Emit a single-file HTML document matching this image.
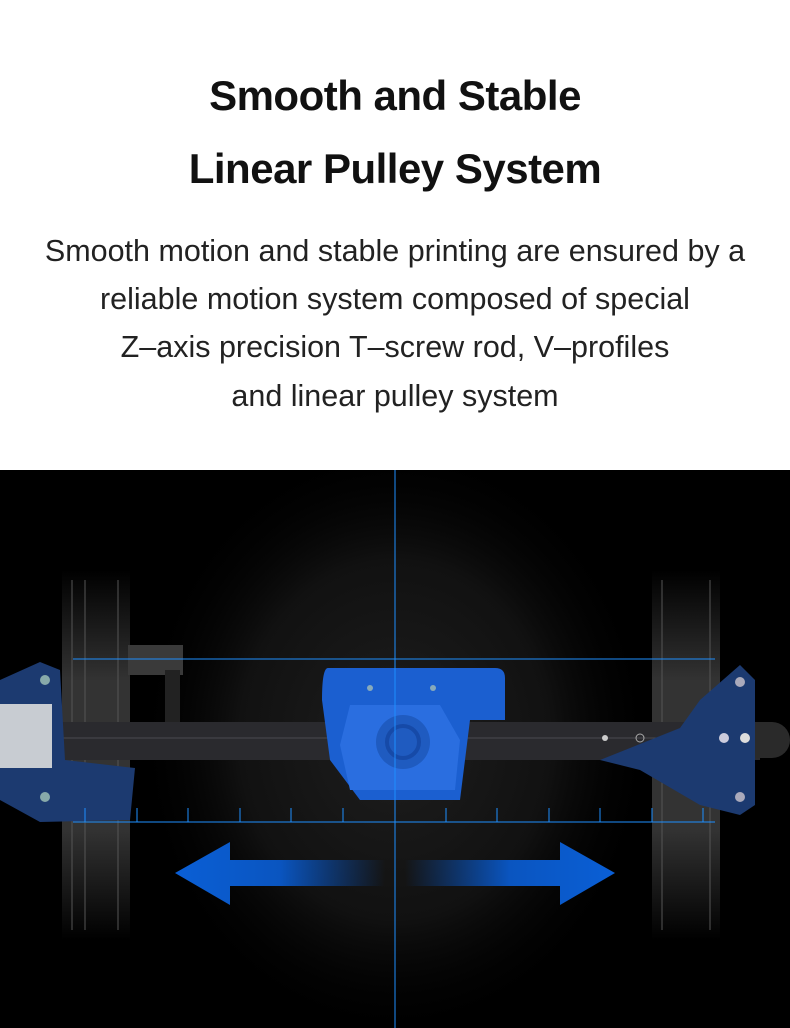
<!DOCTYPE html>
<html><head><meta charset="utf-8"><style>
html,body{margin:0;padding:0;background:#fff;width:790px;height:1028px;overflow:hidden}
.t{position:absolute;left:0;width:790px;text-align:center;font-family:"Liberation Sans",sans-serif;color:#111;white-space:nowrap}
.h{font-weight:bold;font-size:42px;letter-spacing:-0.5px}
.b{font-size:30.5px;color:#222}
</style></head><body>
<div class="t h" style="top:72px">Smooth and Stable</div>
<div class="t h" style="top:145px">Linear Pulley System</div>
<div class="t b" style="top:234px">Smooth motion and stable printing are ensured by a</div>
<div class="t b" style="top:282px">reliable motion system composed of special</div>
<div class="t b" style="top:330px">Z–axis precision T–screw rod, V–profiles</div>
<div class="t b" style="top:379px">and linear pulley system</div>
<svg style="position:absolute;left:0;top:470px" width="790" height="558" viewBox="0 470 790 558">
<defs>
<radialGradient id="bg" cx="395" cy="740" r="1" gradientTransform="translate(395 740) scale(260 300) translate(-395 -740)" gradientUnits="userSpaceOnUse">
<stop offset="0" stop-color="#1e1e1e"/><stop offset="0.6" stop-color="#111"/><stop offset="1" stop-color="#000" stop-opacity="0"/></radialGradient>
<linearGradient id="ext" x1="0" y1="0" x2="0" y2="1"><stop offset="0" stop-color="#000"/><stop offset="0.3" stop-color="#333"/><stop offset="0.7" stop-color="#333"/><stop offset="1" stop-color="#000"/></linearGradient>
<linearGradient id="la" x1="175" y1="0" x2="385" y2="0" gradientUnits="userSpaceOnUse"><stop offset="0" stop-color="#0a5fd6"/><stop offset="0.5" stop-color="#0a55c0"/><stop offset="1" stop-color="#0a55c0" stop-opacity="0"/></linearGradient>
<linearGradient id="ra" x1="615" y1="0" x2="405" y2="0" gradientUnits="userSpaceOnUse"><stop offset="0" stop-color="#0a5fd6"/><stop offset="0.5" stop-color="#0a55c0"/><stop offset="1" stop-color="#0a55c0" stop-opacity="0"/></linearGradient>
</defs>
<rect x="0" y="470" width="790" height="558" fill="#000"/>
<rect x="0" y="470" width="790" height="558" fill="url(#bg)"/>
<rect x="62" y="570" width="68" height="370" fill="url(#ext)"/>
<rect x="652" y="570" width="68" height="370" fill="url(#ext)"/>
<g stroke="#555" stroke-width="1"><line x1="72" y1="580" x2="72" y2="930"/><line x1="85" y1="580" x2="85" y2="930"/><line x1="118" y1="580" x2="118" y2="930"/><line x1="662" y1="580" x2="662" y2="930"/><line x1="710" y1="580" x2="710" y2="930"/></g>
<rect x="128" y="645" width="55" height="30" fill="#3a3a3a"/>
<rect x="165" y="670" width="15" height="60" fill="#222"/>
<rect x="60" y="722" width="700" height="38" fill="#2a2a2e"/>
<rect x="740" y="722" width="50" height="36" rx="18" fill="#2a2a2a"/>
<line x1="62" y1="738" x2="720" y2="738" stroke="#4a4a50"/>
<path d="M0,680 L40,662 L60,670 L65,760 L135,768 L130,820 L40,822 L0,800 Z" fill="#1c3a70"/>
<rect x="0" y="704" width="52" height="64" fill="#c8ccd2"/>
<circle cx="45" cy="680" r="5" fill="#8aa"/><circle cx="45" cy="797" r="5" fill="#8aa"/>
<path d="M740,665 L755,680 L755,805 L740,815 L700,805 L640,770 L600,760 L680,728 L700,700 Z" fill="#1c3a70"/>
<circle cx="740" cy="682" r="5" fill="#aab"/><circle cx="740" cy="797" r="5" fill="#aab"/><circle cx="724" cy="738" r="5" fill="#ccd"/><circle cx="745" cy="738" r="5" fill="#ddd"/>
<circle cx="605" cy="738" r="3" fill="#ccc"/><circle cx="640" cy="738" r="4" fill="none" stroke="#aaa"/>
<path d="M328,668 L495,668 Q505,668 505,678 L505,720 L470,720 L460,800 L360,800 L330,760 L322,700 Q322,668 328,668 Z" fill="#1b5fd0"/>
<path d="M350,705 L440,705 L460,740 L455,790 L350,790 L340,745 Z" fill="#2a6ee0"/>
<circle cx="403" cy="742" r="27" fill="#1f5bc0"/><circle cx="403" cy="742" r="16" fill="none" stroke="#164aa8" stroke-width="4"/>
<circle cx="370" cy="688" r="3" fill="#8ab"/><circle cx="433" cy="688" r="3" fill="#8ab"/>
<g stroke="#1e8fff" stroke-width="1">
<line x1="395" y1="470" x2="395" y2="1028"/>
<line x1="73" y1="659" x2="715" y2="659"/>
<line x1="73" y1="822" x2="715" y2="822"/>
<line x1="85" y1="808" x2="85" y2="822"/><line x1="137" y1="808" x2="137" y2="822"/><line x1="188" y1="808" x2="188" y2="822"/><line x1="240" y1="808" x2="240" y2="822"/><line x1="291" y1="808" x2="291" y2="822"/><line x1="343" y1="808" x2="343" y2="822"/><line x1="446" y1="808" x2="446" y2="822"/><line x1="497" y1="808" x2="497" y2="822"/><line x1="549" y1="808" x2="549" y2="822"/><line x1="600" y1="808" x2="600" y2="822"/><line x1="652" y1="808" x2="652" y2="822"/><line x1="703" y1="808" x2="703" y2="822"/>
</g>
<path d="M175,873 L230,842 L230,860 L385,860 L385,886 L230,886 L230,905 Z" fill="url(#la)"/>
<path d="M615,873 L560,842 L560,860 L405,860 L405,886 L560,886 L560,905 Z" fill="url(#ra)"/>
</svg>
</body></html>
